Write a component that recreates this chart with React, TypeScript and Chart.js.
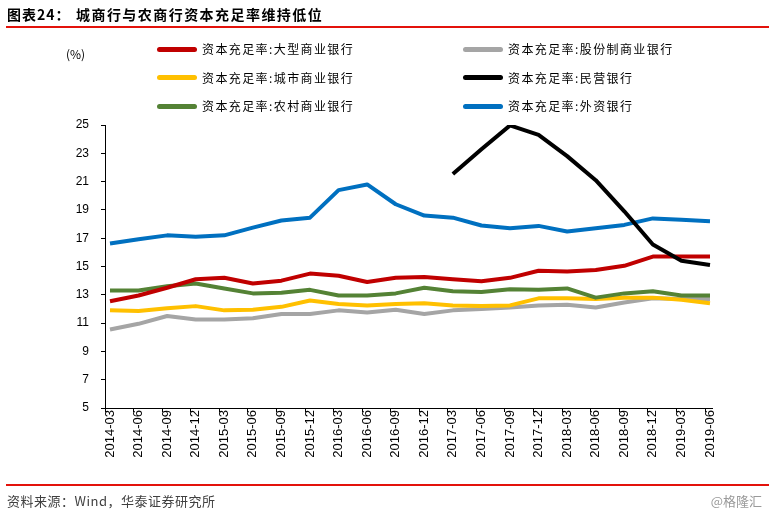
import React, { useEffect, useRef } from "react";
import { Chart, registerables } from "chart.js";

Chart.register(...registerables);

const categories = [
  "2014-03", "2014-06", "2014-09", "2014-12",
  "2015-03", "2015-06", "2015-09", "2015-12",
  "2016-03", "2016-06", "2016-09", "2016-12",
  "2017-03", "2017-06", "2017-09", "2017-12",
  "2018-03", "2018-06", "2018-09", "2018-12",
  "2019-03", "2019-06",
];

const largeBanks = [12.55, 12.95, 13.5, 14.1, 14.2, 13.8, 14.0, 14.5, 14.35, 13.9, 14.2, 14.25, 14.1, 13.96, 14.2, 14.7, 14.65, 14.75, 15.05, 15.7, 15.7, 15.7];
const jointStockBanks = [10.55, 10.95, 11.5, 11.25, 11.25, 11.35, 11.65, 11.65, 11.9, 11.75, 11.95, 11.65, 11.9, 12.0, 12.1, 12.25, 12.3, 12.1, 12.45, 12.75, 12.7, 12.7];
const cityBanks = [11.9, 11.85, 12.05, 12.2, 11.9, 11.95, 12.15, 12.6, 12.35, 12.25, 12.35, 12.4, 12.25, 12.2, 12.25, 12.75, 12.75, 12.7, 12.8, 12.8, 12.65, 12.4];
const privateBanks = [null, null, null, null, null, null, null, null, null, null, null, null, 21.54, 23.28, 24.97, 24.3, 22.8, 21.1, 18.9, 16.55, 15.4, 15.1];
const ruralBanks = [13.3, 13.3, 13.6, 13.8, 13.45, 13.1, 13.15, 13.35, 12.95, 12.95, 13.1, 13.5, 13.25, 13.2, 13.4, 13.35, 13.45, 12.8, 13.1, 13.25, 12.95, 12.95];
const foreignBanks = [16.62, 16.93, 17.2, 17.1, 17.2, 17.75, 18.25, 18.45, 20.4, 20.8, 19.4, 18.6, 18.45, 17.9, 17.7, 17.87, 17.47, 17.7, 17.94, 18.4, 18.3, 18.2];

const yTicks = [5, 7, 9, 11, 13, 15, 17, 19, 21, 23, 25];

const seriesNames = [
  "资本充足率:大型商业银行",
  "资本充足率:股份制商业银行",
  "资本充足率:城市商业银行",
  "资本充足率:民营银行",
  "资本充足率:农村商业银行",
  "资本充足率:外资银行",
];
const seriesValues = [largeBanks, jointStockBanks, cityBanks, privateBanks, ruralBanks, foreignBanks];
const seriesColors = ["#C00000", "#A5A5A5", "#FFC000", "#000000", "#548235", "#0070C0"];
const seriesOrder = [1, 4, 3, 0, 2, 5];

const title1 = "图表24：";
const title2 = "城商行与农商行资本充足率维持低位";
const source = "资料来源：Wind，华泰证券研究所";
const watermark = "@格隆汇";
const unit = "(%)";

const CJK = '"Noto Sans CJK SC", "Liberation Sans", sans-serif';

export default function App() {
  const ref = useRef<HTMLCanvasElement | null>(null);

  useEffect(() => {
    if (!ref.current) return;
    const chart = new Chart(ref.current, {
      type: "line",
      data: {
        datasets: seriesValues.map((vals, k) => ({
          label: seriesNames[k],
          data: vals.map((v, i) => ({ x: i, y: v })),
          borderColor: seriesColors[k],
          backgroundColor: seriesColors[k],
          borderWidth: 4,
          pointRadius: 0,
          tension: 0,
          fill: false,
          borderJoinStyle: "round",
          borderCapStyle: "butt",
          order: seriesOrder[k],
        })),
      },
      options: {
        animation: false,
        responsive: false,
        devicePixelRatio: 1,
        layout: { padding: { top: 125, left: 0, right: 57, bottom: 0 } },
        plugins: {
          legend: { display: false },
          title: { display: false },
          tooltip: { enabled: false },
        },
        scales: {
          x: {
            type: "linear",
            min: -0.175,
            max: 21.07,
            afterFit: (s: any) => {
              s.height = 104;
            },
            afterBuildTicks: (s: any) => {
              s.ticks = categories.map((_, i) => ({ value: i - 0.175 }));
            },
            ticks: {
              autoSkip: false,
              maxRotation: 90,
              minRotation: 90,
              labelOffset: 5,
              padding: -2,
              color: "#000",
              font: { family: "Liberation Sans", size: 13 },
              callback: (_v: any, index: number) => categories[index],
            },
            grid: {
              display: true,
              drawOnChartArea: false,
              drawTicks: true,
              tickLength: 4,
              color: "#000",
              lineWidth: 1,
            },
            border: { display: true, color: "#000", width: 1 },
          },
          y: {
            min: 5,
            max: 25,
            afterFit: (s: any) => {
              s.width = 105;
            },
            afterBuildTicks: (s: any) => {
              s.ticks = yTicks.map((v) => ({ value: v }));
            },
            ticks: {
              padding: 12,
              color: "#000",
              font: { family: "Liberation Sans", size: 12 },
            },
            grid: {
              display: true,
              drawOnChartArea: false,
              drawTicks: true,
              tickLength: 4,
              color: "#000",
              lineWidth: 1,
            },
            border: { display: true, color: "#000", width: 1 },
          },
        },
      } as any,
    });
    return () => chart.destroy();
  }, []);

  const legendRows = [49, 77.5, 106];
  const legendCols = [157, 463];

  return (
    <div
      style={{
        position: "absolute",
        left: 0,
        top: 0,
        width: 769,
        height: 512,
        overflow: "hidden",
        background: "#fff",
      }}
    >
      <canvas
        ref={ref}
        width={769}
        height={512}
        style={{ position: "absolute", left: 0, top: 0, width: 769, height: 512 }}
      />
      <div
        style={{
          position: "absolute",
          left: 7,
          top: 5,
          fontFamily: CJK,
          fontWeight: "bold",
          fontSize: 14,
          lineHeight: "18px",
          letterSpacing: 1,
          color: "#000",
          whiteSpace: "nowrap",
        }}
      >
        {title1}
      </div>
      <div
        style={{
          position: "absolute",
          left: 76,
          top: 5,
          fontFamily: CJK,
          fontWeight: "bold",
          fontSize: 14,
          lineHeight: "18px",
          letterSpacing: 1.45,
          color: "#000",
          whiteSpace: "nowrap",
        }}
      >
        {title2}
      </div>
      <div style={{ position: "absolute", left: 6, top: 26, width: 763, height: 2, background: "#E3120B" }} />

      <div
        style={{
          position: "absolute",
          left: 66,
          top: 46,
          fontFamily: CJK,
          fontSize: 12,
          lineHeight: "16px",
          color: "#000",
        }}
      >
        {unit}
      </div>

      {seriesNames.map((name, k) => {
        const col = k % 2;
        const row = Math.floor(k / 2);
        return (
          <div
            key={name}
            style={{
              position: "absolute",
              left: legendCols[col],
              top: legendRows[row] - 8,
              height: 16,
              display: "flex",
              alignItems: "center",
              whiteSpace: "nowrap",
            }}
          >
            <div
              style={{
                width: 40,
                height: 5,
                borderRadius: 2.5,
                background: seriesColors[k],
                marginRight: 5,
              }}
            />
            <span
              style={{
                fontFamily: CJK,
                fontSize: 12,
                lineHeight: "16px",
                letterSpacing: 1.4,
                color: "#000",
              }}
            >
              {name}
            </span>
          </div>
        );
      })}

      <div style={{ position: "absolute", left: 6, top: 483.5, width: 763, height: 2, background: "#E3120B" }} />
      <div
        style={{
          position: "absolute",
          left: 7,
          top: 493,
          fontFamily: CJK,
          fontSize: 13,
          lineHeight: "16px",
          letterSpacing: 0.5,
          color: "#404040",
          whiteSpace: "nowrap",
        }}
      >
        {source}
      </div>
      <div
        style={{
          position: "absolute",
          right: 7,
          top: 493,
          fontFamily: CJK,
          fontSize: 13,
          lineHeight: "16px",
          color: "#9a9a9a",
          whiteSpace: "nowrap",
        }}
      >
        {watermark}
      </div>
    </div>
  );
}
